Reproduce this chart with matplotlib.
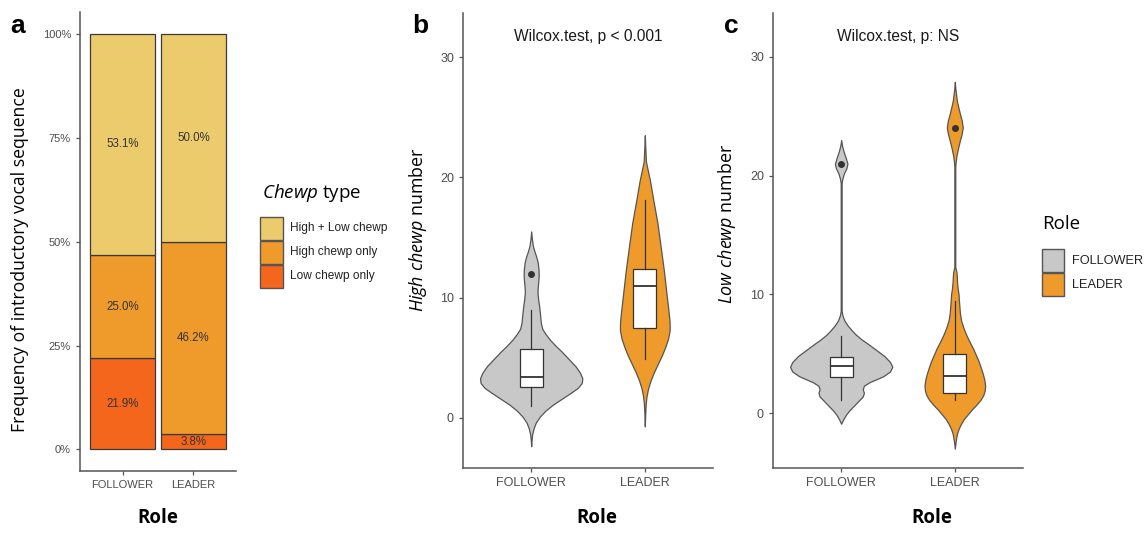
import matplotlib
matplotlib.use('Agg')
import matplotlib.pyplot as plt
import numpy as np
from matplotlib.patches import Rectangle
from matplotlib.transforms import Affine2D

plt.rcParams['mathtext.fontset'] = 'custom'
plt.rcParams['mathtext.rm'] = 'Open Sans'
plt.rcParams['mathtext.it'] = 'Open Sans:italic'

# ---- data ----
roles = ['FOLLOWER', 'LEADER']
chewp_types = ['High + Low chewp', 'High chewp only', 'Low chewp only']
pct_low = [21.9, 3.8]
pct_high = [25.0, 46.2]
pct_both = [53.1, 50.0]

# violin outlines: y value, half width (x units)
hi_fol_y = [15.5, 14.9, 14.3, 13.8, 13.4, 12.9, 12.3, 11.8, 11.3, 10.8, 10.4, 9.8, 9.3, 8.6, 7.9, 7.4,
            7.0, 6.5, 6.0, 5.5, 4.9, 4.3, 3.75, 3.3, 2.9, 2.5, 2.1, 1.6, 1.1, 0.6, 0.1, -0.4, -0.9,
            -1.4, -1.9, -2.35]
hi_fol_w = [0, 0.006, 0.015, 0.03, 0.045, 0.058, 0.065, 0.066, 0.062, 0.057, 0.056, 0.062, 0.07,
            0.078, 0.085, 0.098, 0.125, 0.165, 0.215, 0.27, 0.33, 0.39, 0.43, 0.45, 0.445, 0.41,
            0.35, 0.27, 0.19, 0.125, 0.075, 0.04, 0.02, 0.008, 0.003, 0]
hi_lea_y = [23.5, 22.5, 21.3, 20.5, 19.8, 18.1, 16.2, 14.2, 12.3, 10.4, 9.0, 8.0, 7.3, 6.6, 5.9, 5.2,
            4.5, 3.8, 3.15, 2.5, 1.8, 1.2, 0.2, -0.7]
hi_lea_w = [0, 0.004, 0.01, 0.028, 0.044, 0.075, 0.111, 0.14, 0.167, 0.19, 0.207, 0.218, 0.219,
            0.205, 0.18, 0.15, 0.115, 0.08, 0.052, 0.03, 0.015, 0.008, 0.003, 0]
lo_fol_y = [23.0, 22.5, 22.0, 21.5, 21.0, 20.6, 20.2, 19.8, 19.4, 8.6, 8.2, 7.8, 7.4, 7.0, 6.6, 6.2,
            5.8, 5.3, 4.8, 4.3, 3.9, 3.5, 3.1, 2.85, 2.6, 2.3, 2.0, 1.7, 1.4, 1.1, 0.8, 0.5, 0.2,
            -0.1, -0.5, -0.9]
lo_fol_w = [0, 0.008, 0.022, 0.04, 0.055, 0.045, 0.025, 0.012, 0.004, 0.004, 0.012, 0.028, 0.055,
            0.09, 0.13, 0.18, 0.24, 0.31, 0.38, 0.43, 0.45, 0.43, 0.37, 0.31, 0.25, 0.2, 0.19,
            0.2, 0.19, 0.16, 0.13, 0.1, 0.07, 0.045, 0.02, 0]
lo_lea_y = [27.9, 27.3, 26.9, 26.3, 25.8, 25.2, 24.6, 24.05, 23.5, 22.9, 22.3, 21.7, 21.2, 20.8,
            12.3, 11.9, 11.4, 11.0, 10.5, 10.0, 9.5, 9.0, 8.4, 7.8, 7.2, 6.6, 6.0, 5.45, 4.9,
            4.35, 3.8, 3.25, 2.8, 2.3, 1.9, 1.5, 1.1, 0.7, 0.3, -0.1, -0.5, -0.9, -1.3, -1.7,
            -2.1, -2.5, -3.0]
lo_lea_w = [0, 0.005, 0.01, 0.018, 0.03, 0.045, 0.062, 0.07, 0.06, 0.043, 0.028, 0.015, 0.008,
            0.004, 0.004, 0.014, 0.018, 0.02, 0.025, 0.033, 0.036, 0.04, 0.045, 0.055, 0.075,
            0.1, 0.13, 0.16, 0.185, 0.21, 0.23, 0.248, 0.26, 0.267, 0.263, 0.25, 0.225, 0.19,
            0.15, 0.115, 0.08, 0.055, 0.035, 0.02, 0.012, 0.006, 0]

# box stats: whisker low, q1, median, q3, whisker high, outliers
hi_fol_box = [1.0, 2.55, 3.4, 5.75, 9.0, [12.0]]
hi_lea_box = [4.9, 7.5, 11.0, 12.4, 18.1, []]
lo_fol_box = [1.1, 3.0, 3.94, 4.73, 6.5, [21.0]]
lo_lea_box = [1.1, 1.7, 3.1, 5.0, 9.4, [24.05]]

bar_colors = ['#ECCB6C', '#EE9B2B', '#F4661C']
role_colors = ['#C8C8C8', '#EE9B2B']
axis_col = '#555555'
tick_col = '#4D4D4D'

W, H = 1148, 536
fig = plt.figure(figsize=(W / 100, H / 100), dpi=100)
pix = Affine2D().scale(1 / W, -1 / H).translate(0, 1) + fig.transFigure


def add_ax(l, t, r, b):
    ax = fig.add_axes([l / W, 1 - b / H, (r - l) / W, (b - t) / H])
    for s in ['top', 'right']:
        ax.spines[s].set_visible(False)
    for s in ['left', 'bottom']:
        ax.spines[s].set_color(axis_col)
        ax.spines[s].set_linewidth(1.1)
    ax.tick_params(colors=axis_col, length=3, width=0.9)
    ax.set_xlim(0.4, 2.6)
    return ax


def style_ticks(ax, size):
    for lab in ax.get_xticklabels() + ax.get_yticklabels():
        lab.set_fontfamily('Liberation Sans')
        lab.set_fontsize(size)
        lab.set_color(tick_col)


# ---- panel a ----
ax = add_ax(80, 12, 236, 471)
x = np.arange(1, 3)
ax.bar(x, pct_low, width=0.92, color=bar_colors[2], edgecolor='#3a3a3a', lw=0.9)
ax.bar(x, pct_high, width=0.92, bottom=pct_low, color=bar_colors[1], edgecolor='#3a3a3a', lw=0.9)
bot2 = np.add(pct_low, pct_high)
ax.bar(x, pct_both, width=0.92, bottom=bot2, color=bar_colors[0], edgecolor='#3a3a3a', lw=0.9)
for i in range(2):
    for b, v in [(0, pct_low[i]), (pct_low[i], pct_high[i]), (bot2[i], pct_both[i])]:
        ax.text(x[i], b + v / 2, f'{v:.1f}%', ha='center', va='center',
                fontsize=8.3, color='#333333', family='Liberation Sans')
ax.set_ylim(-5.2, 105.3)
ax.set_yticks([0, 25, 50, 75, 100])
ax.set_yticklabels(['0%', '25%', '50%', '75%', '100%'])
ax.set_xticks(x)
ax.set_xticklabels(roles)
style_ticks(ax, 8)


# ---- panels b and c ----
def violin(ax, pos, ys, ws, color):
    ys = np.asarray(ys)
    ws = np.asarray(ws)
    ax.fill_betweenx(ys, pos - ws, pos + ws, facecolor=color, edgecolor='#555555', lw=0.9)


def box(ax, pos, st):
    stats = [dict(whislo=st[0], q1=st[1], med=st[2], q3=st[3], whishi=st[4], fliers=st[5])]
    ax.bxp(stats, positions=[pos], widths=0.2, patch_artist=True, showcaps=False,
           boxprops=dict(facecolor='white', edgecolor='#333333', lw=0.9),
           medianprops=dict(color='#333333', lw=1.3),
           whiskerprops=dict(color='#333333', lw=0.9),
           flierprops=dict(marker='o', markersize=4, markerfacecolor='#333333',
                           markeredgecolor='#333333'),
           manage_ticks=False)


panels = [
    (463, 713, -4.16, 33.66, [(hi_fol_y, hi_fol_w, hi_fol_box), (hi_lea_y, hi_lea_w, hi_lea_box)],
     'Wilcox.test, p < 0.001'),
    (773, 1023, -4.63, 33.7, [(lo_fol_y, lo_fol_w, lo_fol_box), (lo_lea_y, lo_lea_w, lo_lea_box)],
     'Wilcox.test, p: NS'),
]
for l, r, y0, y1, groups, title in panels:
    ax = add_ax(l, 13, r, 468)
    for i, (ys, ws, st) in enumerate(groups):
        violin(ax, i + 1, ys, ws, role_colors[i])
        box(ax, i + 1, st)
    ax.set_ylim(y0, y1)
    ax.set_yticks([0, 10, 20, 30])
    ax.set_xticks([1, 2])
    ax.set_xticklabels(roles)
    style_ticks(ax, 9)
    fig.text((l + r) / 2, 37, title, transform=pix, ha='center', va='center', fontsize=11.2,
             family='Liberation Sans', color='#1a1a1a')

# ---- figure texts ----
for lx, ly, s in [(18, 33, 'a'), (420, 33, 'b'), (731, 33, 'c')]:
    fig.text(lx, ly, s, transform=pix, fontsize=19, fontweight='bold',
             family='Liberation Sans', ha='center', va='baseline')
for lx in [158, 597, 932]:
    fig.text(lx, 518, 'Role', transform=pix, fontsize=13.5, fontweight='bold',
             family='Open Sans', ha='center', va='center')
fig.text(20, 260, 'Frequency of introductory vocal sequence', transform=pix, rotation=90,
         fontsize=12.7, family='Open Sans', ha='center', va='center')
fig.text(418, 230, r'$\it{High\ chewp}$ number', transform=pix, rotation=90,
         fontsize=12.9, family='Open Sans', ha='center', va='center')
fig.text(727, 224, r'$\it{Low\ chewp}$ number', transform=pix, rotation=90,
         fontsize=12.9, family='Open Sans', ha='center', va='center')

# legend a
fig.text(262, 193, r'$\it{Chewp}$ type', transform=pix, fontsize=13.5, family='Open Sans',
         ha='left', va='center')
for k, (lab, col) in enumerate(zip(chewp_types, bar_colors)):
    top = 217 + k * 24
    fig.patches.append(Rectangle((260, top), 23, 23, transform=pix, facecolor=col,
                                 edgecolor=axis_col, lw=1))
    fig.text(290, top + 11.5, lab, transform=pix, fontsize=8.6, family='Liberation Sans',
             color='#222222', ha='left', va='center')

# legend c
fig.text(1042, 224, 'Role', transform=pix, fontsize=13.5, family='Open Sans',
         ha='left', va='center')
for k, (lab, col) in enumerate(zip(roles, role_colors)):
    top = 249 + k * 24
    fig.patches.append(Rectangle((1042, top), 22, 23, transform=pix, facecolor=col,
                                 edgecolor=axis_col, lw=1))
    fig.text(1072, top + 11.5, lab, transform=pix, fontsize=9.2, family='Liberation Sans',
             color='#222222', ha='left', va='center')

fig.savefig('out.png', dpi=100)
